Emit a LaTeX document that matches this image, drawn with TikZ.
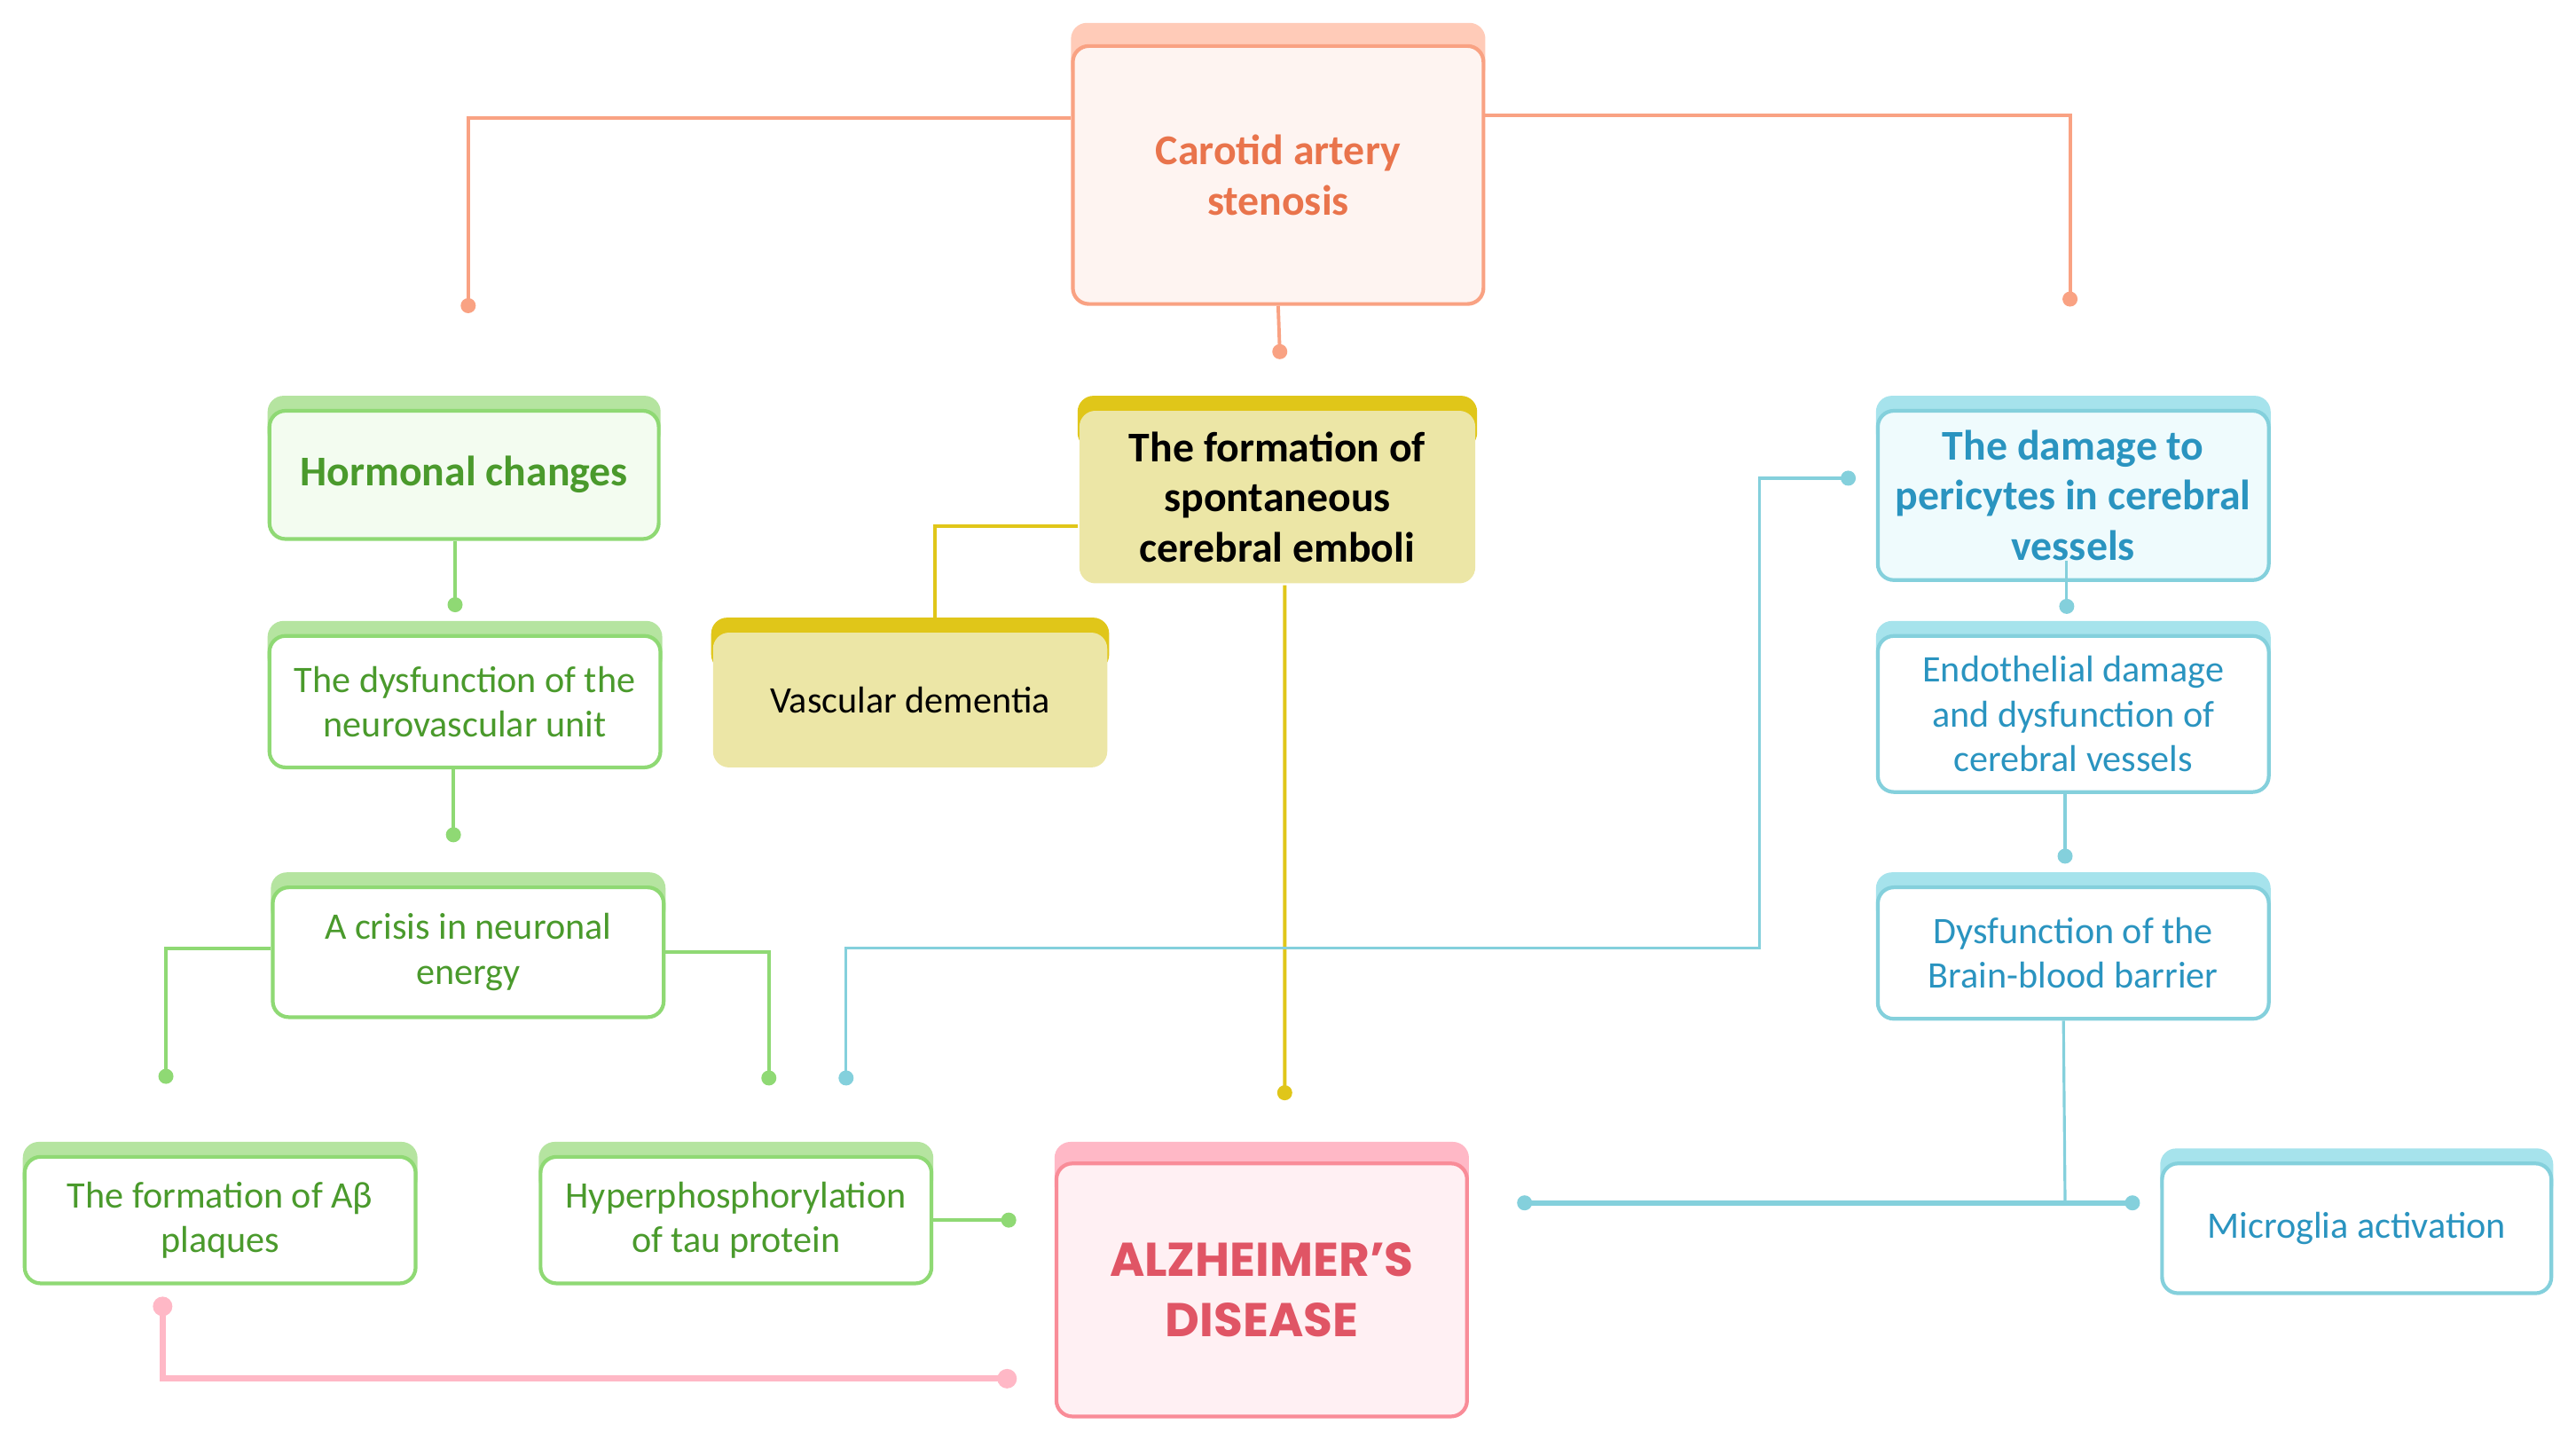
\documentclass[tikz,border=0pt]{standalone}
\usepackage{fontspec}
\setmainfont{Carlito}
\newfontfamily\popfont{Poppins}
\usetikzlibrary{calc}
\pgfdeclarelayer{bg}
\pgfsetlayers{bg,main}
\definecolor{orL}{HTML}{F9A283}
\definecolor{orH}{HTML}{FFCBB8}
\definecolor{orF}{HTML}{FEF4F1}
\definecolor{orT}{HTML}{E9744C}
\definecolor{grL}{HTML}{8FD974}
\definecolor{grH}{HTML}{B5E4A0}
\definecolor{grF}{HTML}{F3FCF0}
\definecolor{grT}{HTML}{4A9A2C}
\definecolor{yeH}{HTML}{E0C619}
\definecolor{yeF}{HTML}{ECE6A6}
\definecolor{cyL}{HTML}{84D0DC}
\definecolor{cyH}{HTML}{A6E3EC}
\definecolor{cyF}{HTML}{EFFBFD}
\definecolor{cyT}{HTML}{2A94C0}
\definecolor{piL}{HTML}{F98C98}
\definecolor{piH}{HTML}{FFB8C6}
\definecolor{piF}{HTML}{FFF0F3}
\definecolor{piT}{HTML}{E05565}
\tikzset{
  base/.style={rounded corners=0.18cm, line width=1.2pt, align=center, inner sep=0pt,
    font=\fontsize{12}{14.4}\selectfont},
  boldtxt/.style={font=\fontsize{13.6}{16.1}\selectfont\bfseries},
  orbox/.style={base, draw=orL, fill=orF, text=orT, boldtxt},
  grbox/.style={base, draw=grL, fill=white, text=grT},
  grboxb/.style={base, draw=grL, fill=grF, text=grT, boldtxt},
  yebox/.style={base, fill=yeF, text=black},
  yeboxb/.style={base, fill=yeF, text=black, boldtxt},
  cybox/.style={base, draw=cyL, fill=white, text=cyT},
  cyboxb/.style={base, draw=cyL, fill=cyF, text=cyT, boldtxt},
  pibox/.style={base, draw=piL, fill=piF, text=piT, font=\fontsize{15.2}{19.5}\selectfont\popfont\bfseries},
  orline/.style={draw=orL, line width=1.1pt},
  grline/.style={draw=grL, line width=1.1pt},
  yeline/.style={draw=yeH, line width=1.1pt},
  cyline/.style={draw=cyL, line width=0.9pt},
  cylinet/.style={draw=cyL, line width=1.8pt},
  piline/.style={draw=piH, line width=2pt},
}
\newcommand\hdr[3]{\begin{pgfonlayer}{bg}\fill[#2, rounded corners=0.18cm] ([yshift=#3]#1.north west) rectangle ([yshift=-0.45cm]#1.north east);\end{pgfonlayer}}
\newcommand\dotat[3][0.085cm]{\fill[#2] (#3) circle[radius=#1];}
\begin{document}
\begin{tikzpicture}[x=0.01852cm, y=-0.01852cm]
\useasboundingbox (0,0) rectangle (1568,880.7);
% nodes
\node[orbox, minimum width=4.63cm, minimum height=2.908cm] (car) at (778,106.5) {Carotid artery\\stenosis};
\node[grboxb, minimum width=4.389cm, minimum height=1.445cm] (hc) at (282.5,289) {Hormonal changes};
\node[yeboxb, minimum width=4.463cm, minimum height=1.945cm] (emb) at (777.5,302.5) {The formation of\\spontaneous\\cerebral emboli};
\node[yebox, minimum width=4.445cm, minimum height=1.519cm] (vd) at (554,426) {Vascular dementia};
\node[cyboxb, minimum width=4.408cm, minimum height=1.908cm] (per) at (1262,301.5) {The damage to\\pericytes in cerebral\\vessels};
\node[grbox, minimum width=4.408cm, minimum height=1.482cm] (nvu) at (283,427) {The dysfunction of the\\neurovascular unit};
\node[cybox, minimum width=4.408cm, minimum height=1.759cm] (end) at (1262,434.5) {Endothelial damage\\and dysfunction of\\cerebral vessels};
\node[grbox, minimum width=4.408cm, minimum height=1.463cm] (cr) at (285,579.5) {A crisis in neuronal\\energy};
\node[cybox, minimum width=4.408cm, minimum height=1.482cm] (bbb) at (1262,580) {Dysfunction of the\\Brain-blood barrier};
\node[grbox, minimum width=4.408cm, minimum height=1.426cm] (ab) at (134,742.5) {The formation of Aβ\\plaques};
\node[grbox, minimum width=4.408cm, minimum height=1.426cm] (hy) at (448,742.5) {Hyperphosphorylation\\of tau protein};
\node[pibox, minimum width=4.63cm, minimum height=2.852cm] (alz) at (768,785) {ALZHEIMER’S\\DISEASE};
\node[cybox, minimum width=4.389cm, minimum height=1.463cm] (mg) at (1434.5,747.5) {Microglia activation};
% headers
\hdr{car}{orH}{0.24cm}
\hdr{hc}{grH}{0.148cm}
\hdr{emb}{yeH}{0.148cm}
\hdr{vd}{yeH}{0.148cm}
\hdr{per}{cyH}{0.148cm}
\hdr{nvu}{grH}{0.148cm}
\hdr{end}{cyH}{0.148cm}
\hdr{cr}{grH}{0.148cm}
\hdr{bbb}{cyH}{0.148cm}
\hdr{ab}{grH}{0.148cm}
\hdr{hy}{grH}{0.148cm}
\hdr{alz}{piH}{0.222cm}
\hdr{mg}{cyH}{0.148cm}
% free ends
\coordinate (dA) at (285,186);
\coordinate (dB) at (1260,182);
\coordinate (dC) at (779,214);
\coordinate (dD) at (782,665);
\coordinate (dE) at (277,368);
\coordinate (dF) at (276,508);
\coordinate (dG) at (101,655);
\coordinate (dH) at (468,656);
\coordinate (dI) at (614,742.5);
\coordinate (dJ) at (99,795);
\coordinate (dK) at (613,839);
\coordinate (dL) at (1125,291);
\coordinate (dM) at (515,656);
\coordinate (dN) at (1258,369);
\coordinate (dO) at (1257,521);
\coordinate (dP) at (928,732);
\coordinate (dQ) at (1298,732);
% connectors
\begin{pgfonlayer}{bg}
\draw[orline] ($(car.west)+(0,-34.5)$) -- (285,72) -- (dA);
\draw[orline] ($(car.east)+(0,-36.5)$) -- (1260,70) -- (dB);
\draw[orline] (car.south) -- (dC);
\draw[yeline] ($(emb.west)+(0,17.5)$) -| ($(vd.north)+(15,-8)$);
\draw[yeline] ($(emb.south)+(4.5,0)$) -- (dD);
\draw[grline] ($(hc.south)+(-5.5,0)$) -- (dE);
\draw[grline] ($(nvu.south)+(-7,0)$) -- (dF);
\draw[grline] ($(cr.west)+(0,-2.5)$) -| (dG);
\draw[grline] (cr.east) -| (dH);
\draw[grline] (hy.east) -- (dI);
\draw[piline] (dJ) |- (dK);
\draw[cyline] (dL) -- (1071,291) -- (1071,577) -| (dM);
\draw[cyline] ($(end.south)+(-5,0)$) -- (dO);
\draw[cyline] ($(bbb.south)+(-6,0)$) -- (1257,732);
\draw[cylinet] (dP) -- (dQ);
\end{pgfonlayer}
\draw[cyline] ($(per.south)+(-4,-13)$) -- (dN);
\dotat{orL}{dA}\dotat{orL}{dB}\dotat{orL}{dC}
\dotat{yeH}{dD}
\dotat{grL}{dE}\dotat{grL}{dF}\dotat{grL}{dG}\dotat{grL}{dH}\dotat{grL}{dI}
\dotat[0.11cm]{piH}{dJ}\dotat[0.11cm]{piH}{dK}
\dotat{cyL}{dL}\dotat{cyL}{dM}\dotat{cyL}{dN}\dotat{cyL}{dO}\dotat{cyL}{dP}\dotat{cyL}{dQ}
\end{tikzpicture}
\end{document}
